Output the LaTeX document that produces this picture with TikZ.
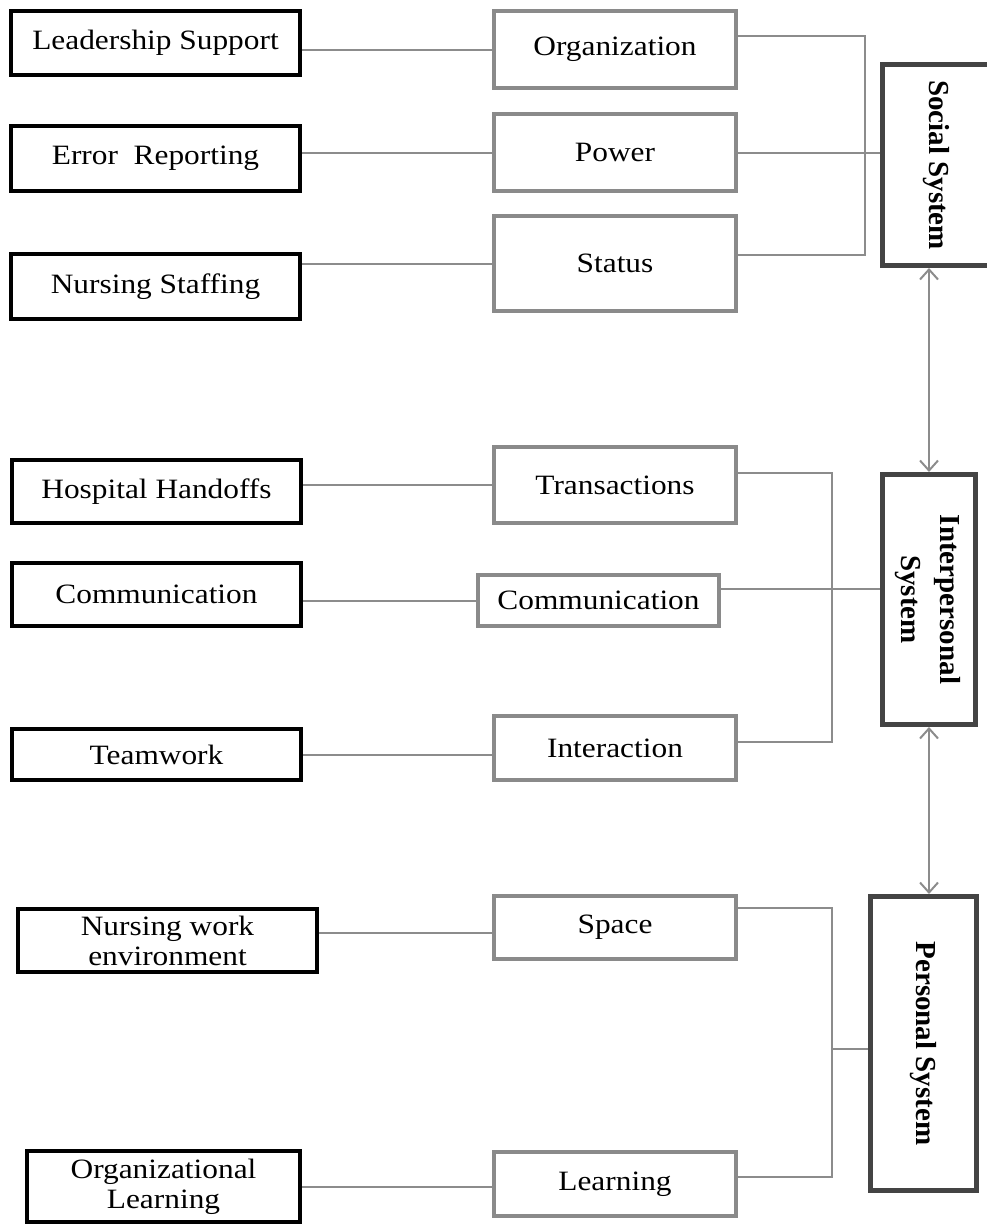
\documentclass[tikz,border=0pt]{standalone}
\usepackage{fontspec}
\setmainfont{Liberation Serif}[FakeStretch=1.12]
\newfontfamily\sysfont{Liberation Serif}
\usepackage{graphicx}
\usepackage{xcolor}
\usetikzlibrary{arrows.meta}
\definecolor{boxgray}{HTML}{8A8A8A}
\definecolor{sysgray}{HTML}{444444}
\definecolor{linegray}{HTML}{8C8C8C}

\begin{document}
\begin{tikzpicture}[x=1pt, y=-1pt, every node/.style={font=\fontsize{28}{30}\selectfont},
  factor/.style={draw=black, line width=4pt, align=center, inner sep=1pt, minimum width=289pt},
  concept/.style={draw=boxgray, line width=4pt, align=center, inner sep=1pt, minimum width=242pt},
  sysbox/.style={draw=sysgray, line width=5pt, align=center, inner sep=1pt, font=\sysfont\bfseries\fontsize{29}{39}\selectfont},
  link/.style={draw=linegray, line width=2pt},
  biarr/.style={link, {Straight Barb[length=10pt,width=18pt]}-{Straight Barb[length=10pt,width=18pt]}}]
\useasboundingbox (0,0) rectangle (987,1226);

\node[factor, minimum height=64pt] (lead) at (155.5,43) {Leadership Support};
\node[factor, minimum height=65pt] (err) at (155.5,158.5) {Error\ \ Reporting};
\node[factor, minimum height=65pt] (staff) at (155.5,286.5) {Nursing Staffing};
\node[factor, minimum height=63pt] (hosp) at (156.5,491.5) {Hospital Handoffs};
\node[factor, minimum height=63pt] (comm) at (156.5,594.5) {Communication};
\node[factor, minimum height=51pt] (team) at (156.5,754.5) {Teamwork};
\node[factor, minimum width=299pt, minimum height=63pt] (nwe) at (167.5,940.5) {Nursing work\\environment};
\node[factor, minimum width=273pt, minimum height=71pt] (orgl) at (163.5,1186.5) {Organizational\\Learning};

\node[concept, minimum height=77pt] (org) at (615,49.5) {Organization};
\node[concept, minimum height=77pt] (power) at (615,152.5) {Power};
\node[concept, minimum height=95pt] (status) at (615,263.5) {Status};
\node[concept, minimum height=76pt] (trans) at (615,485) {Transactions};
\node[concept, minimum width=241pt, minimum height=51pt] (comm2) at (598.5,600.5) {Communication};
\node[concept, minimum height=64pt] (inter) at (615,748) {Interaction};
\node[concept, minimum height=63pt] (space) at (615,927.5) {Space};
\node[concept, minimum height=64pt] (learn) at (615,1184) {Learning};

\node[sysbox, minimum width=107pt, minimum height=201pt] (social) at (936,165) {\rotatebox{-90}{Social System}};
\node[sysbox, minimum width=93pt, minimum height=250pt] (interp) at (929,599.5) {\rotatebox{-90}{\begin{tabular}{@{}c@{}}Interpersonal\\System\end{tabular}}};
\node[sysbox, minimum width=106pt, minimum height=294pt] (personal) at (923.5,1043.5) {\rotatebox{-90}{Personal System}};

\coordinate (sbus) at (865,150);
\coordinate (ibus) at (832,600);
\coordinate (pbus) at (832,1049);

\draw[link] (org.west -| lead.east) -- (org.west);
\draw[link] (power.west -| err.east) -- (power.west);
\draw[link] (status.west -| staff.east) -- (status.west);
\draw[link] ([yshift=13.5pt]org.east) -| (sbus) |- ([yshift=8.5pt]status.east);
\draw[link] (power.east) -- (power.east -| social.west);

\draw[link] (trans.west -| hosp.east) -- (trans.west);
\draw[link] (comm2.west -| comm.east) -- (comm2.west);
\draw[link] (team.east) -- (team.east -| inter.west);
\draw[link] ([yshift=12pt]trans.east) -| (ibus) |- ([yshift=6pt]inter.east);
\draw[link] ([yshift=12pt]comm2.east) -- ([yshift=12pt]comm2.east -| interp.west);

\draw[link] ([yshift=-5pt]space.west -| nwe.east) -- ([yshift=-5pt]space.west);
\draw[link] (orgl.east) -- (orgl.east -| learn.west);
\draw[link] ([yshift=19.5pt]space.east) -| (pbus) |- ([yshift=7pt]learn.east);
\draw[link] (pbus) -- (pbus -| personal.west);

\draw[biarr] (interp.north |- social.south) -- (interp.north);
\draw[biarr] (interp.south) -- (interp.south |- personal.north);
\end{tikzpicture}
\end{document}
